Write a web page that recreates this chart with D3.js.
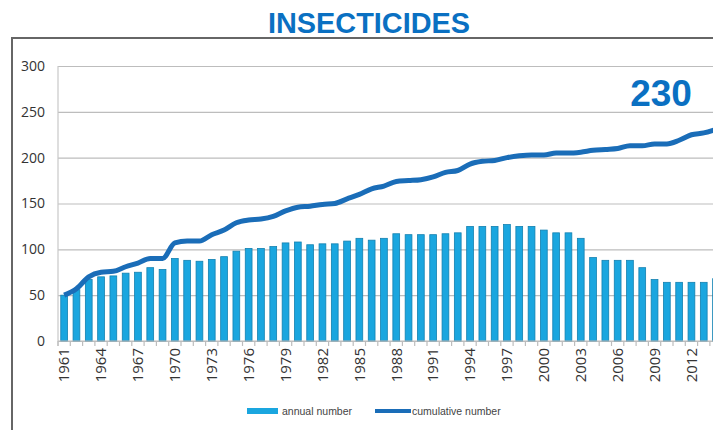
<!DOCTYPE html>
<html><head><meta charset="utf-8">
<script src="https://cdn.jsdelivr.net/npm/d3@7"></script>
<style>
html,body{margin:0;padding:0;background:#fff;overflow:hidden}
svg{display:block}
</style></head>
<body>
<svg id="chart" width="713" height="430"></svg>
<script>
const years = d3.range(1961, 2015);
const annual = [50,56,67,70,71,74,75,80,78,90,88,87,89,92,98,101,101,103,107,108,105,106,106,109,112,110,112,117,116,116,116,117,118,125,125,125,127,125,125,121,118,118,112,91,88,88,88,80,67,64,64,64,64,68];
const cumulative = [50,57,70,75,76,81,85,90,90,107,109,109,116,121,129,132,133,136,142,146,147,149,150,155,160,166,169,174,175,176,179,184,186,193,196,197,200,202,203,203,205,205,206,208,209,210,213,213,215,215,219,225,227,231];
const yTicks = [0,50,100,150,200,250,300];
const labelYears = years.filter(y => (y - 1961) % 3 === 0 && y <= 2012);
const title = "INSECTICIDES";
const finalLabel = "230";
const legendItems = ["annual number", "cumulative number"];

(function draw() {
const svg = d3.select("#chart");
const mLeft = 58, mTop = 66, mBottom = 341;
const step = 12.3;
const x = d3.scaleBand().domain(years).range([mLeft, mLeft + years.length * step])
  .paddingInner(0.45).paddingOuter(0.225);
const y = d3.scaleLinear().domain([0, 300]).range([mBottom, mTop]);

// frame
svg.append("path").attr("d", "M12,440 V38 H720").attr("fill", "none")
  .attr("stroke", "#666").attr("stroke-width", 2);

// title
svg.append("text").attr("x", 369).attr("y", 33).attr("text-anchor", "middle")
  .attr("font-family", "Liberation Sans, Arial, sans-serif").attr("font-weight", "bold")
  .attr("font-size", 29).attr("fill", "#0A70C2").attr("textLength", 202)
  .attr("lengthAdjust", "spacingAndGlyphs").text(title);

// gridlines & y labels
const yAxis = d3.axisLeft(y).tickValues(yTicks).tickSize(-(713 - mLeft)).tickPadding(13);
const gy = svg.append("g").attr("transform", `translate(${mLeft},0)`).call(yAxis);
gy.select(".domain").remove();
gy.selectAll(".tick line").attr("stroke", "#bdbdbd").attr("stroke-width", 1.2);
gy.selectAll(".tick text").attr("font-family", "Open Sans, DejaVu Sans, sans-serif")
  .attr("font-size", 14).attr("fill", "#333");
svg.append("line").attr("x1", mLeft).attr("x2", mLeft).attr("y1", mTop).attr("y2", mBottom + 5)
  .attr("stroke", "#c8c8c8").attr("stroke-width", 1.2);

// bars
svg.append("g").selectAll("rect").data(years).join("rect")
  .attr("x", d => x(d)).attr("width", x.bandwidth())
  .attr("y", (d, i) => y(annual[i])).attr("height", (d, i) => y(0) - y(annual[i]))
  .attr("fill", "#1AA6DF").attr("stroke", "#1380B0").attr("stroke-width", 0.8);

// x axis baseline and ticks
svg.append("line").attr("x1", mLeft).attr("x2", 713).attr("y1", mBottom).attr("y2", mBottom)
  .attr("stroke", "#bdbdbd").attr("stroke-width", 1.2);
const gap = x.step() * x.paddingInner() / 2;
svg.append("g").selectAll("line").data(years).join("line")
  .attr("x1", d => x(d) - gap).attr("x2", d => x(d) - gap)
  .attr("y1", mBottom).attr("y2", mBottom + 5).attr("stroke", "#bdbdbd").attr("stroke-width", 1.2);

const xAxis = d3.axisBottom(x).tickValues(labelYears).tickSize(0);
const gx = svg.append("g").attr("transform", `translate(0,${mBottom})`).call(xAxis);
gx.select(".domain").remove();
gx.selectAll(".tick text").attr("transform", "rotate(-90)").attr("text-anchor", "end")
  .attr("x", -7).attr("y", 0).attr("dy", "0.35em")
  .attr("font-family", "Open Sans, DejaVu Sans, sans-serif").attr("font-size", 15).attr("fill", "#333");

// cumulative line
const line = d3.line().x((d, i) => x(years[i]) + x.bandwidth() / 2).y(d => y(d)).curve(d3.curveMonotoneX);
svg.append("path").datum(cumulative).attr("d", line).attr("fill", "none")
  .attr("stroke", "#1A6DB8").attr("stroke-width", 5).attr("stroke-linejoin", "round");

// final label
svg.append("text").attr("x", 661).attr("y", 106).attr("text-anchor", "middle")
  .attr("font-family", "Liberation Sans, Arial, sans-serif").attr("font-weight", "bold")
  .attr("font-size", 37).attr("fill", "#0A70C2").text(finalLabel);

// legend
const lg = svg.append("g").attr("font-family", "Liberation Sans Narrow, Liberation Sans, sans-serif")
  .attr("font-size", 10.5).attr("fill", "#444");
lg.append("rect").attr("x", 247).attr("y", 408).attr("width", 31).attr("height", 6).attr("fill", "#1AA6DF");
lg.append("text").attr("x", 282).attr("y", 415).text(legendItems[0]);
lg.append("line").attr("x1", 375).attr("x2", 411).attr("y1", 411).attr("y2", 411)
  .attr("stroke", "#1A6DB8").attr("stroke-width", 4);
lg.append("text").attr("x", 412).attr("y", 415).text(legendItems[1]);
})();
</script>
</body></html>
